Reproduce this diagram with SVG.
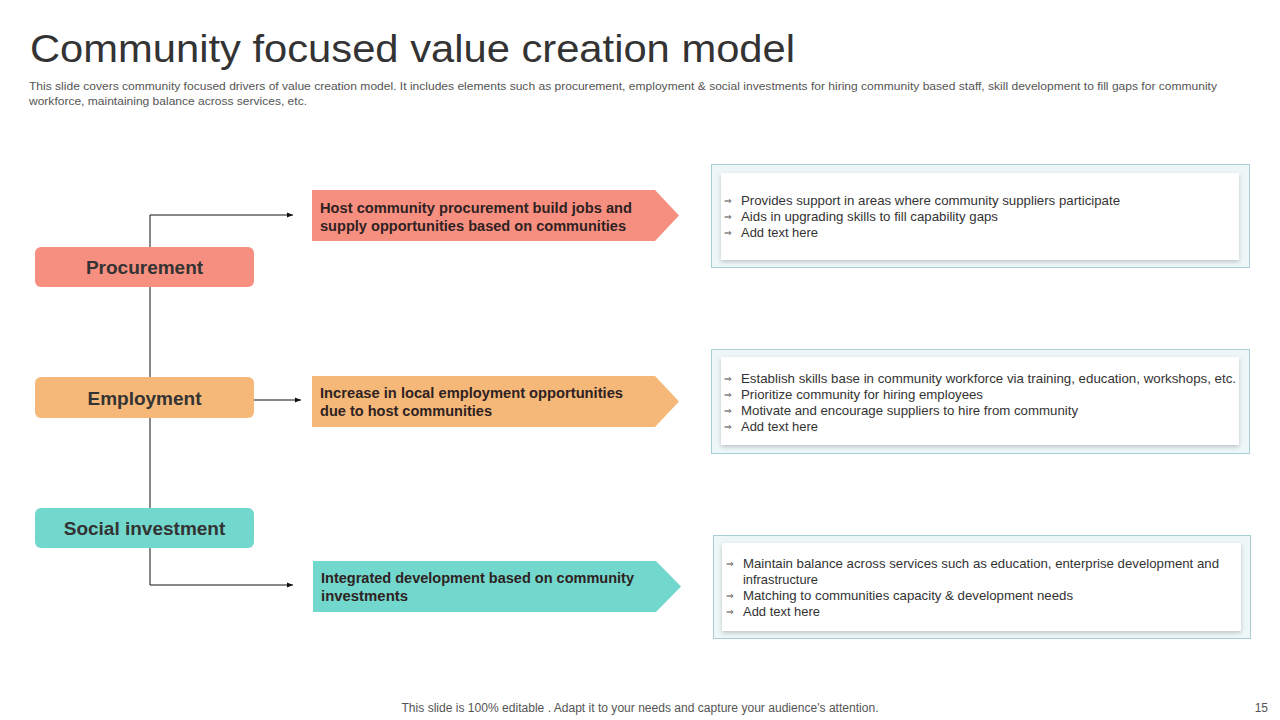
<svg xmlns="http://www.w3.org/2000/svg" width="1280" height="720" viewBox="0 0 1280 720">
<defs>
<style>
.title{font-family:"Liberation Sans",Arial,sans-serif;font-size:38px;fill:#333;}
.sub{font-family:"Liberation Sans",Arial,sans-serif;font-size:11px;fill:#555;}
.node{font-family:"Liberation Sans",Arial,sans-serif;font-size:19px;font-weight:bold;fill:#333;text-anchor:middle;}
.arrtxt{font-family:"Liberation Sans",Arial,sans-serif;font-size:14.5px;font-weight:bold;fill:#2f2222;}
.bul{font-family:"Liberation Sans",Arial,sans-serif;font-size:13px;fill:#333;}
.sym{font-family:"DejaVu Sans",sans-serif;font-size:9px;fill:#555;}
.foot{font-family:"Liberation Sans",Arial,sans-serif;font-size:12px;fill:#555;}
.conn{fill:none;stroke:#111;stroke-width:1;}
.outer{fill:#eef7f8;stroke:#a9cdd5;stroke-width:1;}
.inner{fill:#fff;filter:url(#sh);}
</style>
<marker id="ah" viewBox="0 0 10 10" refX="10" refY="5" markerWidth="6" markerHeight="6" markerUnits="userSpaceOnUse" orient="auto">
<path d="M0,1 L10,5 L0,9 z" fill="#111"/>
</marker>
<filter id="sh" x="-5%" y="-10%" width="110%" height="130%">
<feDropShadow dx="0" dy="2" stdDeviation="2" flood-color="#000" flood-opacity="0.2"/>
</filter>
</defs>
<rect width="1280" height="720" fill="#fff"/>
<text class="title" x="30" y="62" textLength="765" lengthAdjust="spacingAndGlyphs">Community focused value creation model</text>
<text class="sub" x="29" y="90" textLength="1188" lengthAdjust="spacingAndGlyphs">This slide covers community focused drivers of value creation model. It includes elements such as procurement, employment  &amp; social investments for hiring community based staff, skill development to fill gaps for community</text>
<text class="sub" x="29" y="105" textLength="278" lengthAdjust="spacingAndGlyphs">workforce, maintaining balance across services, etc.</text>

<g id="connectors">
<path class="conn" d="M150,247 V215 H293" marker-end="url(#ah)"/>
<path class="conn" d="M150,287 V377"/>
<path class="conn" d="M150,418 V508"/>
<path class="conn" d="M150,548 V585 H293" marker-end="url(#ah)"/>
<path class="conn" d="M254,400 H301" marker-end="url(#ah)"/>
</g>

<g id="procurement">
<rect x="35" y="247" width="219" height="40" rx="6" fill="#f78f80"/>
<text class="node" x="144.5" y="274">Procurement</text>
</g>
<g id="employment">
<rect x="35" y="377" width="219" height="41" rx="6" fill="#f5b878"/>
<text class="node" x="144.5" y="404.5">Employment</text>
</g>
<g id="social-investment">
<rect x="35" y="508" width="219" height="40" rx="6" fill="#72d7cc"/>
<text class="node" x="144.5" y="535">Social investment</text>
</g>

<g id="arrow-procurement">
<path d="M312,190 H655 L679,215.5 L655,241 H312 Z" fill="#f78f80"/>
<text class="arrtxt" x="320" y="213" textLength="312" lengthAdjust="spacingAndGlyphs">Host community  procurement build jobs and</text>
<text class="arrtxt" x="320" y="231" textLength="306" lengthAdjust="spacingAndGlyphs">supply opportunities based on communities</text>
</g>
<g id="arrow-employment">
<path d="M312,376 H655 L679,401.5 L655,427 H312 Z" fill="#f5b878"/>
<text class="arrtxt" x="320" y="398" textLength="303" lengthAdjust="spacingAndGlyphs">Increase in local employment opportunities</text>
<text class="arrtxt" x="320" y="416" textLength="172" lengthAdjust="spacingAndGlyphs">due to host communities</text>
</g>
<g id="arrow-social">
<path d="M313,561 H656 L681,586.5 L656,612 H313 Z" fill="#72d7cc"/>
<text class="arrtxt" x="321" y="583" textLength="313" lengthAdjust="spacingAndGlyphs">Integrated development based on community</text>
<text class="arrtxt" x="321" y="601" textLength="87" lengthAdjust="spacingAndGlyphs">investments</text>
</g>

<g id="box-procurement">
<rect class="outer" x="711.5" y="164.5" width="538" height="103"/>
<rect class="inner" x="721" y="173" width="518" height="87"/>
<text class="sym" x="724" y="204">⇒</text><text class="bul" x="741" y="205" textLength="379" lengthAdjust="spacingAndGlyphs">Provides  support  in areas  where  community suppliers  participate</text>
<text class="sym" x="724" y="220">⇒</text><text class="bul" x="741" y="221" textLength="257" lengthAdjust="spacingAndGlyphs">Aids in upgrading  skills to fill capability gaps</text>
<text class="sym" x="724" y="236">⇒</text><text class="bul" x="741" y="237" textLength="77" lengthAdjust="spacingAndGlyphs">Add text here</text>
</g>
<g id="box-employment">
<rect class="outer" x="711.5" y="349.5" width="538" height="104"/>
<rect class="inner" x="721" y="357" width="518" height="88"/>
<text class="sym" x="724" y="382">⇒</text><text class="bul" x="741" y="383" textLength="495" lengthAdjust="spacingAndGlyphs">Establish skills base in community workforce  via training, education, workshops, etc.</text>
<text class="sym" x="724" y="398">⇒</text><text class="bul" x="741" y="399" textLength="242" lengthAdjust="spacingAndGlyphs">Prioritize community for hiring employees</text>
<text class="sym" x="724" y="414">⇒</text><text class="bul" x="741" y="415" textLength="337" lengthAdjust="spacingAndGlyphs">Motivate  and encourage  suppliers to hire from community</text>
<text class="sym" x="724" y="430">⇒</text><text class="bul" x="741" y="431" textLength="77" lengthAdjust="spacingAndGlyphs">Add text here</text>
</g>
<g id="box-social">
<rect class="outer" x="713.5" y="535.5" width="537" height="103"/>
<rect class="inner" x="722" y="543" width="519" height="88"/>
<text class="sym" x="726" y="567">⇒</text><text class="bul" x="743" y="568" textLength="476" lengthAdjust="spacingAndGlyphs">Maintain balance  across services  such as education,  enterprise development  and</text>
<text class="bul" x="743" y="584" textLength="75" lengthAdjust="spacingAndGlyphs">infrastructure</text>
<text class="sym" x="726" y="599">⇒</text><text class="bul" x="743" y="600" textLength="330" lengthAdjust="spacingAndGlyphs">Matching to communities capacity &amp; development  needs</text>
<text class="sym" x="726" y="615">⇒</text><text class="bul" x="743" y="616" textLength="77" lengthAdjust="spacingAndGlyphs">Add text here</text>
</g>

<text class="foot" x="640" y="712" text-anchor="middle" textLength="477" lengthAdjust="spacingAndGlyphs">This slide is 100% editable . Adapt it to your needs and capture your audience's attention.</text>
<text class="foot" x="1268" y="712" text-anchor="end">15</text>
</svg>
